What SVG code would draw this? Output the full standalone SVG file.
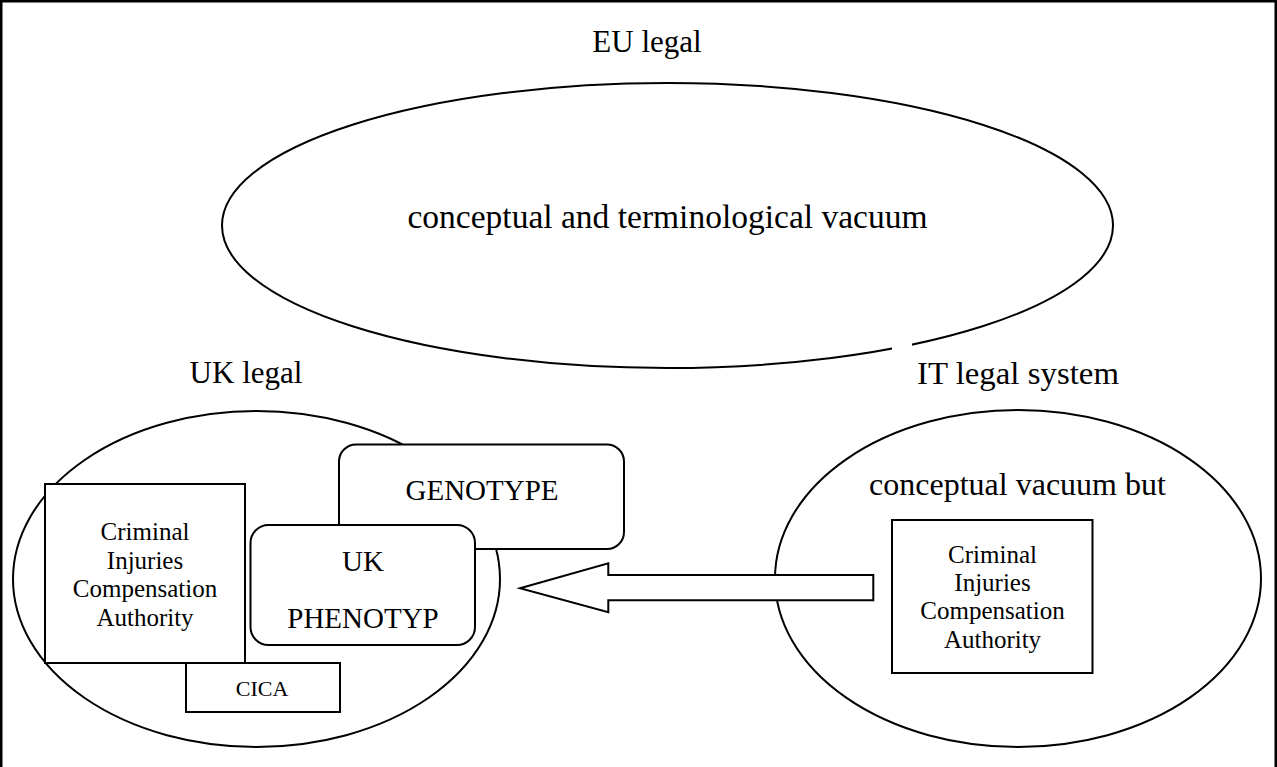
<svg xmlns="http://www.w3.org/2000/svg" width="1277" height="767" viewBox="0 0 1277 767">
<style>
.shape{fill:#fff;stroke:#000;stroke-width:2}
.t{font-family:"Liberation Serif","DejaVu Serif",serif;fill:#000;text-anchor:middle}
.title{font-size:31px}
.box{font-size:25px}
.big{font-size:29px}
</style>
<rect x="1.25" y="1.25" width="1274.5" height="800" fill="#fff" stroke="#000" stroke-width="2.5"/>
<g id="eu">
<ellipse class="shape" cx="667.5" cy="225.5" rx="445.5" ry="142.5" stroke-width="1.8"/>
<rect x="892" y="338" width="20" height="14" fill="#fff"/>
<text class="t title" x="647" y="52">EU legal</text>
<text class="t" x="667.5" y="228" font-size="33.5">conceptual and terminological vacuum</text>
</g>
<g id="uk">
<text class="t title" x="246" y="383">UK legal</text>
<ellipse class="shape" cx="256.5" cy="579" rx="243.5" ry="168"/>
</g>
<g id="uk-cica-box">
<rect class="shape" x="45" y="484" width="200" height="179"/>
<text class="t box" x="145" y="540">Criminal</text>
<text class="t box" x="145" y="568.5">Injuries</text>
<text class="t box" x="145" y="597">Compensation</text>
<text class="t box" x="145" y="625.5">Authority</text>
</g>
<g id="cica">
<rect class="shape" x="186" y="663" width="154" height="49"/>
<text class="t" x="262" y="696" font-size="22">CICA</text>
</g>
<g id="genotype">
<rect class="shape" x="339" y="444.5" width="285" height="104.5" rx="17"/>
<text class="t big" x="482" y="500">GENOTYPE</text>
</g>
<g id="phenotype">
<rect class="shape" x="250.5" y="525" width="224.5" height="120" rx="18"/>
<text class="t big" x="363" y="571">UK</text>
<text class="t big" x="363" y="628">PHENOTYP</text>
</g>
<g id="it">
<text class="t title" x="1018" y="384" textLength="202" lengthAdjust="spacingAndGlyphs">IT legal system</text>
<ellipse class="shape" cx="1018" cy="578.5" rx="243" ry="168.5"/>
<text class="t" x="1017.5" y="495" font-size="32">conceptual vacuum but</text>
</g>
<g id="it-cica-box">
<rect class="shape" x="892" y="520" width="200.5" height="153"/>
<text class="t box" x="992.5" y="562.7">Criminal</text>
<text class="t box" x="992.5" y="591">Injuries</text>
<text class="t box" x="992.5" y="619.3">Compensation</text>
<text class="t box" x="992.5" y="647.7">Authority</text>
</g>
<g id="connectors">
<polygon class="shape" points="520,588.3 608.3,563.3 608.3,575 873.3,575 873.3,600.3 608.3,600.3 608.3,612.3"/>
</g>
</svg>
